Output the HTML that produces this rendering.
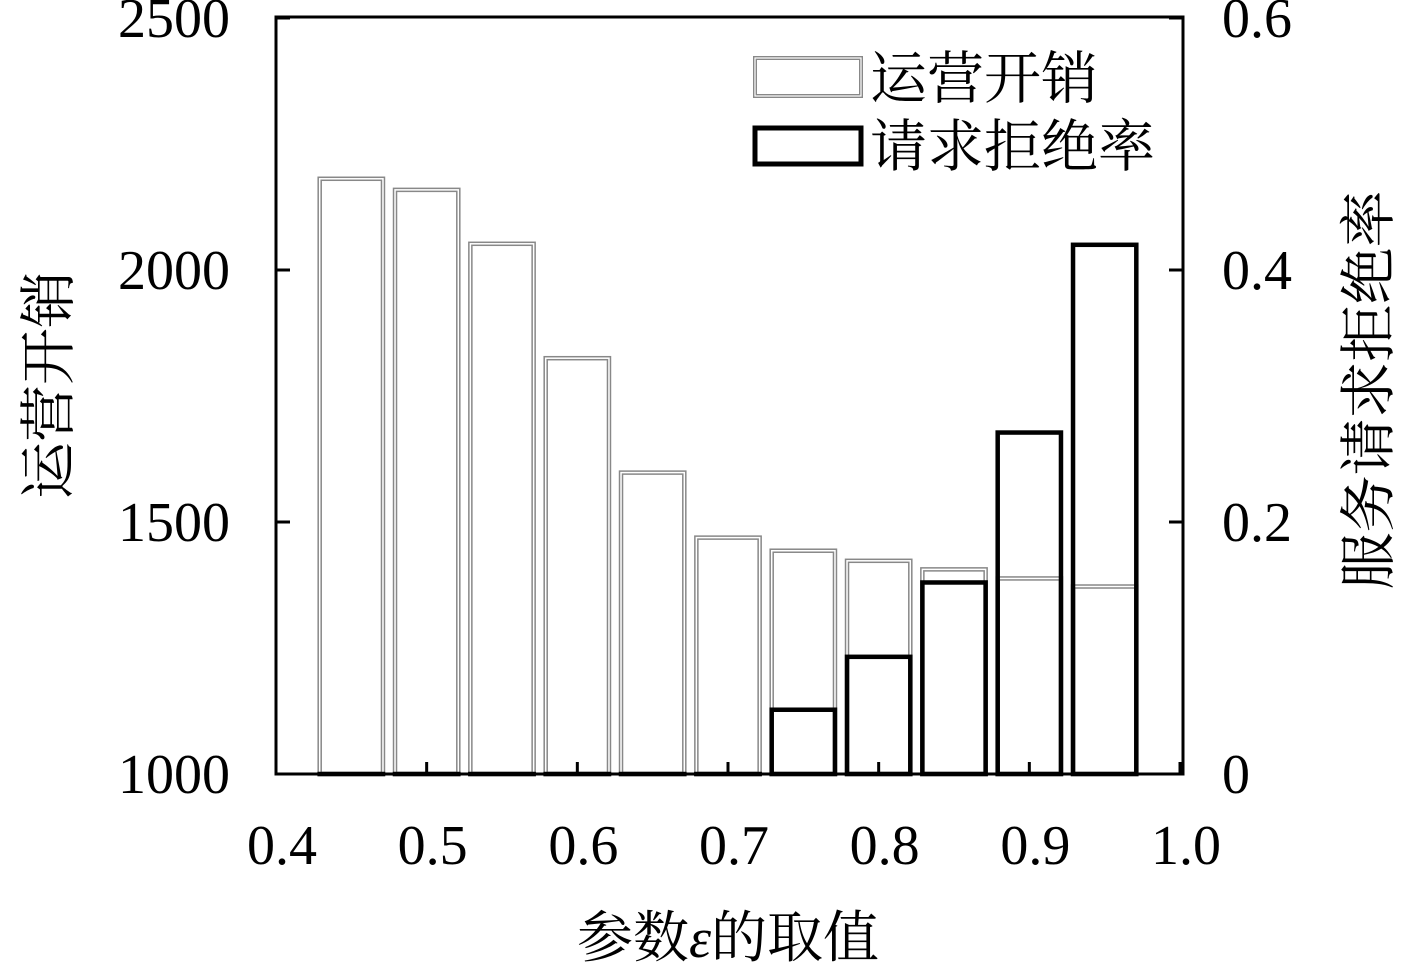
<!DOCTYPE html>
<html><head><meta charset="utf-8"><style>
body{margin:0;background:#fff}
svg text{font-family:"Liberation Serif","Noto Serif CJK SC",serif;fill:#000}
</style></head><body>
<svg id="chart" width="1417" height="969" xmlns="http://www.w3.org/2000/svg">
<g id="marks"></g>
<rect x="276" y="17" width="907" height="757" fill="none" stroke="#000" stroke-width="3"/>
<g id="axes"></g>
<text x="728" y="957" font-size="56" text-anchor="middle">参数<tspan font-style="italic">ε</tspan>的取值</text>
<text transform="translate(68,385) rotate(-90)" font-size="57" text-anchor="middle">运营开销</text>
<text transform="translate(1388,390) rotate(-90)" font-size="57" text-anchor="middle">服务请求拒绝率</text>
<g>
<rect x="755" y="58" width="106" height="38" fill="#fff" stroke="#888" stroke-width="4"/>
<rect x="755" y="58" width="106" height="38" fill="none" stroke="#fff" stroke-width="1.2"/>
<text x="870" y="98" font-size="57">运营开销</text>
<rect x="755" y="128" width="106" height="36" fill="#fff" stroke="#000" stroke-width="5"/>
<text x="870" y="166" font-size="57">请求拒绝率</text>
</g>
</svg>
<script>
const categories=[0.45,0.5,0.55,0.6,0.65,0.7,0.75,0.8,0.85,0.9,0.95];
const costValues=[2181,2159,2052,1825,1598,1469,1443,1423,1406,1388,1372];
const rejectValues=[0,0,0,0,0,0,0.051,0.093,0.152,0.271,0.42];
const xTicks=[0.4,0.5,0.6,0.7,0.8,0.9,1.0];
const xTickLabels=["0.4","0.5","0.6","0.7","0.8","0.9","1.0"];
const leftTicks=[1000,1500,2000,2500];
const rightTicks=[0,0.2,0.4,0.6];
const rightTickLabels=["0","0.2","0.4","0.6"];
const NS="http://www.w3.org/2000/svg";
const X=v=>276+(v-0.4)/0.6*904;
const YL=v=>774-(v-1000)/1500*756;
const YR=v=>774-v/0.6*756;
const bw=0.042/0.6*904;
const marks=document.getElementById('marks'),axes=document.getElementById('axes');
function mk(tag,attrs,parent){const e=document.createElementNS(NS,tag);for(const k in attrs)e.setAttribute(k,attrs[k]);parent.appendChild(e);return e;}
categories.forEach((c,i)=>{
  const x=X(c)-bw/2;
  const y=YL(costValues[i]);
  const r=mk('rect',{x:x,y:y,width:bw,height:774-y,fill:'#fff',stroke:'#888','stroke-width':4.5},marks);
  
  
  mk('rect',{x:x,y:y,width:bw,height:774-y,fill:'none',stroke:'#fff','stroke-width':1.5},marks);
});
categories.forEach((c,i)=>{
  const x=X(c)-bw/2;
  const y=YR(rejectValues[i]);
  const r=mk('rect',{x:x,y:y,width:bw,height:Math.max(774-y,0.01),fill:'none',stroke:'#000','stroke-width':4.5},marks);
  
  
});
xTicks.forEach((v,i)=>{
  mk('line',{x1:X(v),x2:X(v),y1:774,y2:762,stroke:'#000','stroke-width':3},axes);
  const t=mk('text',{x:X(v)+6,y:864,'font-size':56,'text-anchor':'middle'},axes);
  t.textContent=xTickLabels[i];
  
  
});
leftTicks.forEach(v=>{
  mk('line',{x1:276,x2:290,y1:YL(v),y2:YL(v),stroke:'#000','stroke-width':3},axes);
  const t=mk('text',{x:230,y:YL(v)+19,'font-size':56,'text-anchor':'end'},axes);
  t.textContent=String(v);
  
  
});
rightTicks.forEach((v,i)=>{
  mk('line',{x1:1169,x2:1183,y1:YR(v),y2:YR(v),stroke:'#000','stroke-width':3},axes);
  const t=mk('text',{x:1222,y:YR(v)+19,'font-size':56},axes);
  t.textContent=rightTickLabels[i];
  
  
});
</script>
</body></html>
